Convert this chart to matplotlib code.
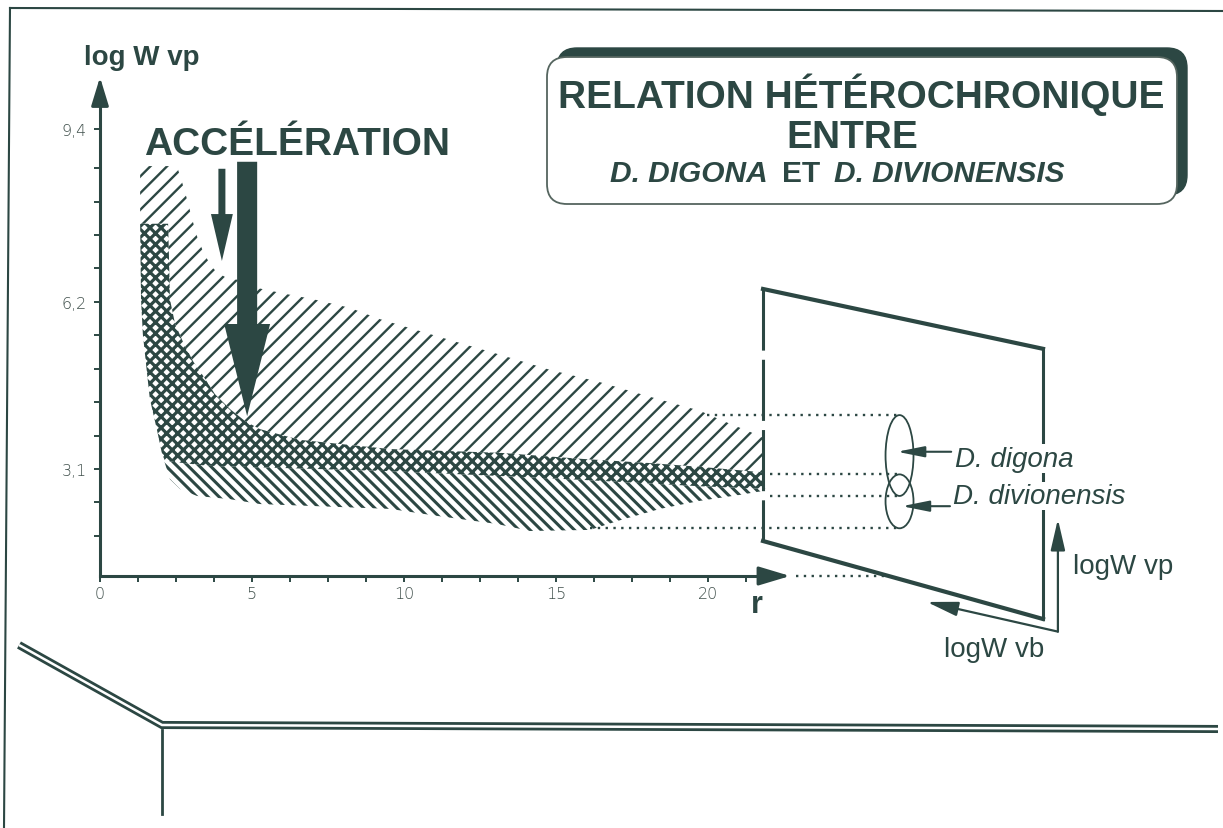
import numpy as np
import matplotlib
matplotlib.use("Agg")
import matplotlib.pyplot as plt
from matplotlib.patches import Polygon, Ellipse, FancyBboxPatch, FancyArrow

INK = "#2c4743"
plt.rcParams["font.family"] = ["Liberation Sans", "DejaVu Sans"]
plt.rcParams["hatch.linewidth"] = 1.8
plt.rcParams["hatch.color"] = INK

# ---------------------------------------------------------------
# Envelopes of log W vp against r for the two species
# ---------------------------------------------------------------
# D. digona, upper edge
digona_top_r = [1.32, 2.53, 2.70, 2.86, 3.03, 3.19, 3.36, 3.52, 3.68, 3.85, 4.18,
                4.77, 5.16, 6.09, 7.01, 8.22, 9.21, 11.41, 13.16, 14.80, 16.45,
                18.09, 19.74, 19.97, 20.72, 21.38, 21.88]
digona_top_v = [8.72, 8.72, 8.42, 8.11, 7.74, 7.42, 7.18, 7.00, 6.85, 6.75, 6.64,
                6.59, 6.46, 6.35, 6.25, 6.09, 5.88, 5.51, 5.22, 4.94, 4.71,
                4.44, 4.18, 4.12, 3.94, 3.79, 3.66]
# steep early edge shared by both envelopes
early_edge_r = [1.32, 1.35, 1.41, 1.55, 1.64, 1.88, 2.04]
early_edge_v = [7.65, 6.25, 5.60, 4.86, 4.40, 3.81, 3.38]
# D. digona, lower edge
digona_bottom_r = [2.14, 3.52, 9.54, 13.16, 15.79, 19.74, 21.88]
digona_bottom_v = [3.25, 3.16, 3.06, 2.97, 2.90, 2.78, 2.73]
# D. divionensis, upper edge
divio_top_r = [1.32, 2.24, 2.27, 2.30, 2.47, 2.73, 3.06, 3.39, 3.78, 4.28, 4.77,
               5.26, 6.58, 9.54, 13.16, 15.79, 18.09, 19.74, 21.78]
divio_top_v = [7.65, 7.65, 7.00, 6.25, 5.79, 5.46, 5.10, 4.83, 4.49, 4.21, 3.99,
               3.84, 3.64, 3.47, 3.40, 3.29, 3.21, 3.14, 3.04]
# D. divionensis, lower edge
divio_bottom_r = [2.30, 2.63, 3.19, 4.28, 5.26, 9.54, 11.09, 13.06, 14.14, 16.12,
                  17.11, 18.42, 19.74, 21.05, 21.78]
divio_bottom_v = [2.91, 2.73, 2.60, 2.54, 2.45, 2.36, 2.23, 2.08, 1.95, 1.97,
                  2.15, 2.36, 2.51, 2.62, 2.69]

# adult ranges projected on the (logW vb, logW vp) plane
digona_range = (2.60, 4.10)
divio_range = (2.00, 3.00)

x_ticks = [0, 5, 10, 15, 20]
y_ticks = [3.1, 6.2, 9.4]
y_tick_labels = ["3,1", "6,2", "9,4"]

# ---------------------------------------------------------------
fig = plt.figure(figsize=(12.23, 8.29), dpi=100)

# page furniture in pixel units
deco = fig.add_axes([0, 0, 1, 1], zorder=0)
deco.set_xlim(0, 1223)
deco.set_ylim(829, 0)
deco.axis("off")

deco.plot([10, 1223], [9, 12], color=INK, lw=1.5)
deco.plot([10, 4], [9, 829], color=INK, lw=1.5)
rail = [(19, 646), (162, 726), (1218, 730)]
deco.plot(*zip(*rail), color=INK, lw=5.8, solid_joinstyle="miter", solid_capstyle="butt")
deco.plot(*zip(*rail), color="white", lw=1.8, solid_joinstyle="miter", solid_capstyle="butt")
deco.plot([162, 162], [731, 815], color=INK, lw=2.0)

# title cartouche with drop shadow
deco.add_patch(FancyBboxPatch((557, 49), 630, 147, boxstyle="round,pad=0,rounding_size=20",
                              fc=INK, ec=INK, lw=1))
deco.add_patch(FancyBboxPatch((547, 58), 630, 147, boxstyle="round,pad=0,rounding_size=20",
                              fc="white", ec="#55655f", lw=1.3))
deco.text(861, 108, "RELATION HÉTÉROCHRONIQUE", ha="center", va="baseline",
          fontsize=28, fontweight="bold", color=INK)
deco.text(852, 148, "ENTRE", ha="center", va="baseline",
          fontsize=28, fontweight="bold", color=INK)
deco.text(768, 182, "D. DIGONA", ha="right", va="baseline", fontsize=21.5,
          fontweight="bold", style="italic", color=INK)
deco.text(801, 182, "ET", ha="center", va="baseline", fontsize=21.5,
          fontweight="bold", color=INK)
deco.text(834, 182, "D. DIVIONENSIS", ha="left", va="baseline", fontsize=21.5,
          fontweight="bold", style="italic", color=INK)

# ---------------------------------------------------------------
# growth chart
ax = fig.add_axes([0, 0, 1, 1], zorder=1)
ax.set_facecolor("none")
ax.set_xlim(-100 / 30.4, 1123 / 30.4)
ax.set_ylim(3.1 - 359 / 53.9, 3.1 + 470 / 53.9)

Y0 = 1.115
for s in ("top", "right"):
    ax.spines[s].set_visible(False)
ax.spines["left"].set_position(("data", 0))
ax.spines["bottom"].set_position(("data", Y0))
ax.spines["left"].set_bounds(Y0, 10.0)
ax.spines["bottom"].set_bounds(0, 21.9)
for s in ("left", "bottom"):
    ax.spines[s].set_color(INK)
    ax.spines[s].set_linewidth(2.2)

ax.set_xticks(x_ticks, [str(t) for t in x_ticks])
ax.set_xticks([t for t in np.arange(1.25, 21.3, 1.25) if t not in x_ticks], minor=True)
ax.set_yticks(y_ticks, y_tick_labels)
y_minor = [t for t in np.arange(1.86, 9.0, 0.62) if min(abs(t - m) for m in y_ticks) > 0.2]
ax.set_yticks(y_minor, minor=True)
ax.tick_params(which="both", direction="out", length=4.5, width=1.4, color=INK,
               labelcolor="#3f4f4b", labelsize=11.5)
ax.tick_params(axis="x", pad=3)
ax.tick_params(axis="y", pad=5)
for lbl in ax.get_xticklabels() + ax.get_yticklabels():
    lbl.set_fontfamily("DejaVu Sans")
    lbl.set_fontweight("light")

arrow_kw = dict(color=INK, shrinkA=0, shrinkB=0)
ax.annotate("", xy=(0, 10.37), xytext=(0, 9.9),
            arrowprops=dict(arrowstyle="-|>,head_length=0.72,head_width=0.22",
                            mutation_scale=24, lw=2.2, **arrow_kw))
ax.annotate("", xy=(22.7, Y0), xytext=(21.7, Y0),
            arrowprops=dict(arrowstyle="-|>,head_length=0.8,head_width=0.24",
                            mutation_scale=24, lw=2.2, **arrow_kw))
ax.text(1.38, 10.74, "log W vp", ha="center", va="center", fontsize=20,
        fontweight="bold", color=INK)
ax.text(21.61, 0.60, "r", ha="center", va="center", fontsize=22,
        fontweight="bold", color=INK)

# hatched envelopes
top_a = list(zip(digona_top_r, digona_top_v))
top_b = list(zip(divio_top_r, divio_top_v))
edge = list(zip(early_edge_r, early_edge_v))
low_a = list(zip(digona_bottom_r, digona_bottom_v))
low_b = list(zip(divio_bottom_r, divio_bottom_v))

only_digona = top_a + top_b[::-1]
shared = top_b + (edge + low_a)[::-1]
only_divio = [edge[-1]] + low_a + low_b[::-1]

for poly, hatch, hlw in ((only_divio, "\\\\\\", 2.2), (shared, "xxx", 2.3),
                         (only_digona, "//", 1.7)):
    plt.rcParams["hatch.linewidth"] = hlw
    patch = Polygon(poly, closed=True, fc="none", ec=INK, lw=0, hatch=hatch, zorder=2)
    if hasattr(patch, "set_hatch_linewidth"):
        patch.set_hatch_linewidth(hlw)
    ax.add_patch(patch)

# acceleration arrows
ax.text(6.48, 8.94, "ACCÉLÉRATION", ha="center", va="baseline", fontsize=28,
        fontweight="bold", color=INK)
ax.add_patch(FancyArrow(4.01, 8.67, 0, -1.71, width=0.23, head_width=0.72,
                        head_length=0.87, length_includes_head=True,
                        fc=INK, ec="none", zorder=4))
ax.add_patch(FancyArrow(4.84, 8.80, 0, -4.72, width=0.66, head_width=1.51,
                        head_length=1.71, length_includes_head=True,
                        fc=INK, ec="none", zorder=4))

# projection plane
plane = [(21.81, 6.44), (31.02, 5.33), (31.02, 0.317), (21.81, 1.764)]
ax.plot([plane[0][0], plane[1][0]], [plane[0][1], plane[1][1]], color=INK, lw=3)
ax.plot([plane[3][0], plane[2][0]], [plane[3][1], plane[2][1]], color=INK, lw=3)
ax.plot([plane[1][0], plane[2][0]], [plane[1][1], plane[2][1]], color=INK, lw=2.2)
ax.plot([plane[0][0], plane[3][0]], [plane[0][1], plane[3][1]], color=INK, lw=2.2,
        ls=(0, (20, 3)))

# projection of the adult ranges
r_plane = 26.3
dots = dict(color=INK, lw=1.7, ls=(0, (1, 2.3)))
ax.plot([19.97, r_plane], [digona_range[1]] * 2, **dots)
ax.plot([22.04, r_plane], [digona_range[0]] * 2, **dots)
ax.plot([22.04, r_plane], [divio_range[1]] * 2, **dots)
ax.plot([16.12, r_plane], [divio_range[0]] * 2, **dots)
ax.plot([22.9, 25.8], [Y0, Y0], **dots)

for rng in (digona_range, divio_range):
    ax.add_patch(Ellipse((r_plane, sum(rng) / 2), width=0.92, height=rng[1] - rng[0],
                         fill=False, ec=INK, lw=1.3, zorder=3))

label_kw = dict(fontsize=20, style="italic", color=INK, va="baseline", ha="left",
                zorder=5, bbox=dict(fc="white", ec="none", pad=1.0))
ax.text(28.13, 3.16, "D. digona", **label_kw)
ax.text(28.06, 2.47, "D. divionensis", **label_kw)
small_head = dict(arrowstyle="-|>,head_length=1.1,head_width=0.22", mutation_scale=15,
                  lw=1.5, **arrow_kw)
ax.annotate("", xy=(26.22, 3.42), xytext=(28.0, 3.42), arrowprops=small_head)
ax.annotate("", xy=(26.38, 2.41), xytext=(27.96, 2.41), arrowprops=small_head)

# axes of the projection plane
axis_head = dict(arrowstyle="-|>,head_length=0.95,head_width=0.22", mutation_scale=20,
                 lw=1.6, **arrow_kw)
ax.annotate("", xy=(31.51, 2.17), xytext=(31.51, 0.083), arrowprops=axis_head)
ax.annotate("", xy=(27.20, 0.633), xytext=(31.51, 0.083), arrowprops=axis_head)
ax.text(32.0, 1.30, "logW vp", ha="left", va="center", fontsize=20, color=INK)
ax.text(29.41, -0.24, "logW vb", ha="center", va="center", fontsize=20, color=INK)

fig.savefig("out.png", dpi=100)
